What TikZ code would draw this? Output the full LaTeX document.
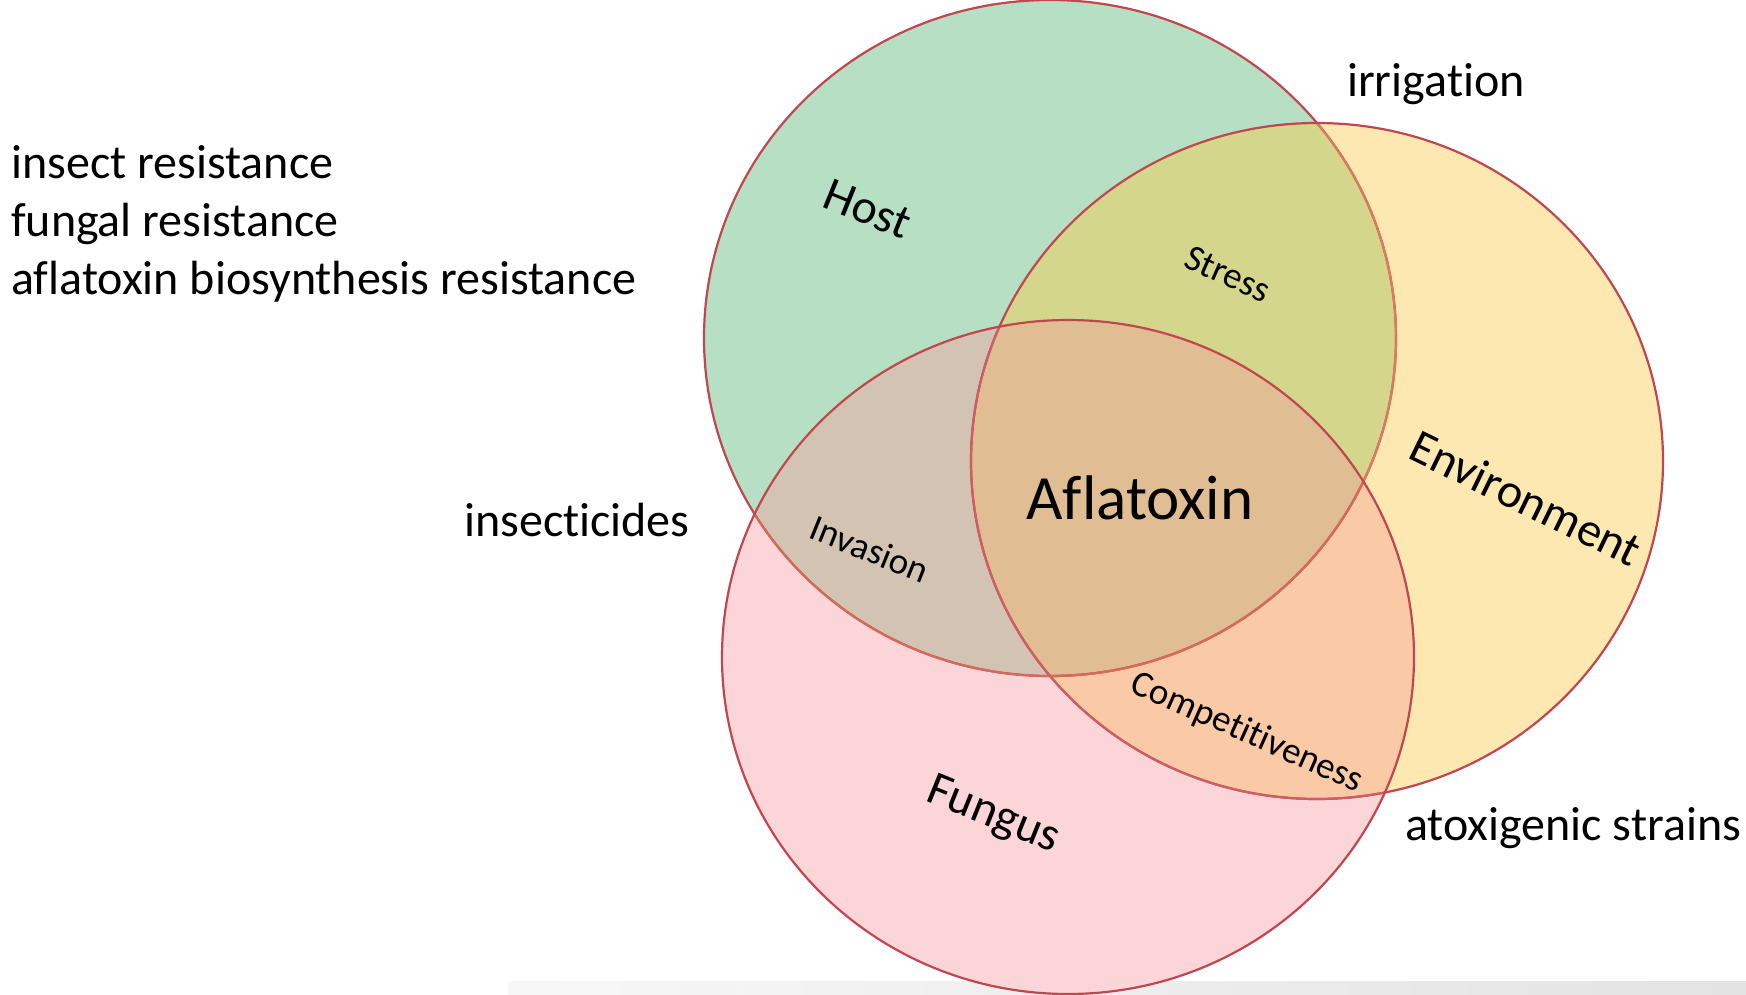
\documentclass[tikz,border=0pt]{standalone}
\usepackage{fontspec}
\setmainfont{Carlito}[RawFeature={-liga}]
\begin{document}
\begin{tikzpicture}[x=1pt,y=-1pt,
  lbl/.style={inner sep=0pt, font=\fontsize{48}{57}\selectfont},
  big/.style={inner sep=0pt, font=\fontsize{63}{75}\selectfont},
  small/.style={inner sep=0pt, font=\fontsize{37}{44}\selectfont},
  rim/.style={draw=rimred, line width=2.2pt}]
\definecolor{cG}{HTML}{B6DFC4}
\definecolor{cY}{HTML}{FDE8B1}
\definecolor{cP}{HTML}{FCD5D9}
\definecolor{cGY}{HTML}{D3D68B}
\definecolor{cGP}{HTML}{D3C3B3}
\definecolor{cYP}{HTML}{FAC9A6}
\definecolor{cGYP}{HTML}{E0BD93}
\definecolor{rimred}{HTML}{C0464F}
\definecolor{rimor}{HTML}{DC7A5C}
\useasboundingbox (0,0) rectangle (1746,994);
\fill[white] (0,0) rectangle (1746,994);
% bottom strip
\shade[left color=black!3, right color=black!11] (508,981) rectangle (1746,994);
% ellipse geometry
\def\Gell{(1050,338) ellipse [x radius=346pt, y radius=338pt]}
\def\Yell{(1317,461) ellipse [x radius=346pt, y radius=338pt]}
\def\Pell{(1068,657) ellipse [x radius=346pt, y radius=337pt]}
% single fills
\fill[cG] \Gell;
\fill[cY] \Yell;
\fill[cP] \Pell;
% pairwise
\begin{scope}\clip \Gell; \fill[cGY] \Yell; \end{scope}
\begin{scope}\clip \Gell; \fill[cGP] \Pell; \end{scope}
\begin{scope}\clip \Yell; \fill[cYP] \Pell; \end{scope}
\begin{scope}\clip \Gell; \clip \Yell; \fill[cGYP] \Pell; \end{scope}
% outlines
\draw[rim] \Gell;
\begin{scope}\clip \Yell; \draw[draw=rimor, line width=2.2pt] \Gell; \end{scope}
\draw[rim] \Yell;
\begin{scope}\clip \Pell; \draw[draw=rimor!70!rimred, line width=2.2pt] \Gell; \draw[draw=rimred!80!pink, line width=2.2pt] \Yell; \end{scope}
\draw[rim] \Pell;
% outside labels
\node[lbl, anchor=base west] (t1) at (11,178) {insect resistance};
\node[lbl, anchor=base west] (t2) at (11,236) {fungal resistance};
\node[lbl, anchor=base west] (t3) at (11,294) {aflatoxin biosynthesis resistance};
\node[lbl, anchor=base west] (irr) at (1347,96) {irrigation};
\node[lbl, anchor=base west] (ins) at (464,536) {insecticides};
\node[lbl, anchor=base west] (atx) at (1405,840) {atoxigenic strains};
% inside labels
\node[lbl, rotate=-22] (host) at (868,209) {Host};
\node[small, rotate=-24] (stress) at (1228,274) {Stress};
\node[lbl, rotate=-26] (env) at (1526,498) {Environment};
\node[big, anchor=base] (afl) at (1140,519) {Aflatoxin};
\node[small, rotate=-22] (inv) at (870,549) {Invasion};
\node[small, rotate=-24] (comp) at (1247,733) {Competitiveness};
\node[lbl, rotate=-22] (fun) at (993,816) {Fungus};
\end{tikzpicture}
\end{document}
